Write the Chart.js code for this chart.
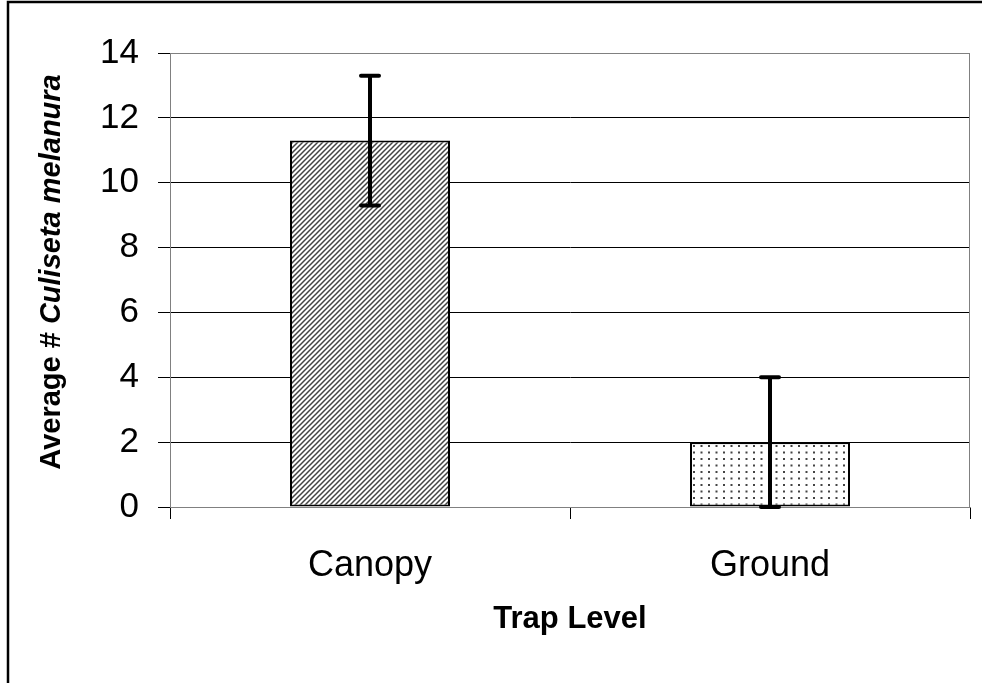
<!DOCTYPE html>
<html>
<head>
<meta charset="utf-8">
<script src="https://cdn.jsdelivr.net/npm/chart.js@4.4.1/dist/chart.umd.min.js"></script>
<style>
  body { margin: 0; background: #fff; }
  canvas { display: block; }
</style>
</head>
<body>
<canvas id="myChart" width="982" height="683"></canvas>
<script>
const categories = ['Canopy', 'Ground'];
const means = [11.3, 2.0];
const errors = [2.0, 2.0];
const yMin = 0;
const yMax = 14;
const yStep = 2;
const xTitle = 'Trap Level';
const yTitlePlain = 'Average # ';
const yTitleItalic = 'Culiseta melanura';

const FONT = "'Liberation Sans', Arial, sans-serif";

// fill patterns
function hatchPattern() {
  const c = document.createElement('canvas');
  c.width = 5; c.height = 5;
  const g = c.getContext('2d');
  g.fillStyle = '#fff';
  g.fillRect(0, 0, 5, 5);
  g.strokeStyle = '#444';
  g.lineWidth = 1.5;
  g.beginPath();
  g.moveTo(-1, 6); g.lineTo(6, -1);
  g.moveTo(-1, 1); g.lineTo(1, -1);
  g.moveTo(4, 6); g.lineTo(6, 4);
  g.stroke();
  return g.createPattern(c, 'repeat');
}

function dotPattern() {
  const c = document.createElement('canvas');
  c.width = 15; c.height = 13;
  const g = c.getContext('2d');
  g.fillStyle = '#fff';
  g.fillRect(0, 0, 15, 13);
  g.fillStyle = '#444';
  g.fillRect(3, 3, 2, 2);
  g.fillRect(10.5, 3, 2, 2);
  g.fillRect(3, 9.5, 2, 2);
  g.fillRect(10.5, 9.5, 2, 2);
  return g.createPattern(c, 'repeat');
}

const extras = {
  id: 'extras',
  afterDatasetsDraw(chart) {
    const ctx = chart.ctx;
    const x = chart.scales.x;
    const y = chart.scales.y;
    const area = chart.chartArea;
    ctx.save();
    // plot area frame
    ctx.strokeStyle = '#808080';
    ctx.lineWidth = 1;
    ctx.strokeRect(area.left + 0.5, area.top + 0.5, area.right - area.left - 1, area.bottom - area.top);
    // error bars
    ctx.strokeStyle = '#000';
    ctx.lineWidth = 4;
    means.forEach((m, i) => {
      const cx = x.getPixelForValue(i);
      const top = y.getPixelForValue(m + errors[i]);
      const bot = y.getPixelForValue(Math.max(m - errors[i], yMin));
      ctx.lineCap = 'butt';
      ctx.beginPath();
      ctx.moveTo(cx, top);
      ctx.lineTo(cx, bot);
      ctx.stroke();
      ctx.lineCap = 'round';
      ctx.beginPath();
      ctx.moveTo(cx - 9, top); ctx.lineTo(cx + 9, top);
      ctx.moveTo(cx - 9, bot); ctx.lineTo(cx + 9, bot);
      ctx.stroke();
    });
    ctx.restore();
  },
  afterDraw(chart) {
    const ctx = chart.ctx;
    ctx.save();
    // outer frame
    ctx.strokeStyle = '#000';
    ctx.lineWidth = 2.5;
    ctx.beginPath();
    ctx.moveTo(8, 683);
    ctx.lineTo(8, 2);
    ctx.lineTo(982, 2);
    ctx.stroke();

    ctx.fillStyle = '#000';
    // x title
    ctx.font = 'bold 31px ' + FONT;
    ctx.textAlign = 'center';
    ctx.textBaseline = 'alphabetic';
    ctx.fillText(xTitle, 570, 628);

    // y title (mixed bold / bold italic)
    const fPlain = 'bold 29px ' + FONT;
    const fItal = 'italic bold 29px ' + FONT;
    ctx.font = fPlain;
    const w1 = ctx.measureText(yTitlePlain).width;
    ctx.font = fItal;
    const w2 = ctx.measureText(yTitleItalic).width;
    ctx.translate(60, 272);
    ctx.rotate(-Math.PI / 2);
    ctx.textAlign = 'left';
    let sx = -(w1 + w2) / 2;
    ctx.font = fPlain;
    ctx.fillText(yTitlePlain, sx, 0);
    ctx.font = fItal;
    ctx.fillText(yTitleItalic, sx + w1, 0);
    ctx.restore();
  }
};

const ctx = document.getElementById('myChart');
new Chart(ctx, {
  type: 'bar',
  data: {
    labels: categories,
    datasets: [
      {
        data: means,
        backgroundColor: [hatchPattern(), dotPattern()],
        borderColor: '#000',
        borderWidth: 2,
        borderSkipped: false,
        categoryPercentage: 1,
        barPercentage: 0.4,
      },
    ],
  },
  options: {
    responsive: false,
    animation: false,
    layout: {
      padding: { left: 10, top: 53, right: 12, bottom: 0 },
    },
    plugins: {
      legend: { display: false },
      tooltip: { enabled: false },
    },
    scales: {
      x: {
        offset: true,
        grid: {
          offset: true,
          drawOnChartArea: false,
          drawTicks: true,
          tickLength: 12,
          color: '#000',
        },
        border: { color: '#808080' },
        ticks: {
          color: '#000',
          font: { family: FONT, size: 36 },
          padding: 25,
        },
        afterFit: (s) => { s.height = 176; },
      },
      y: {
        min: yMin,
        max: yMax,
        grid: {
          color: '#000',
          tickLength: 12,
        },
        border: { color: '#808080' },
        ticks: {
          stepSize: yStep,
          color: '#000',
          font: { family: FONT, size: 35 },
          padding: 19,
        },
        afterFit: (s) => { s.height; s.width = 160; },
      },
    },
  },
  plugins: [extras],
});
</script>
</body>
</html>
